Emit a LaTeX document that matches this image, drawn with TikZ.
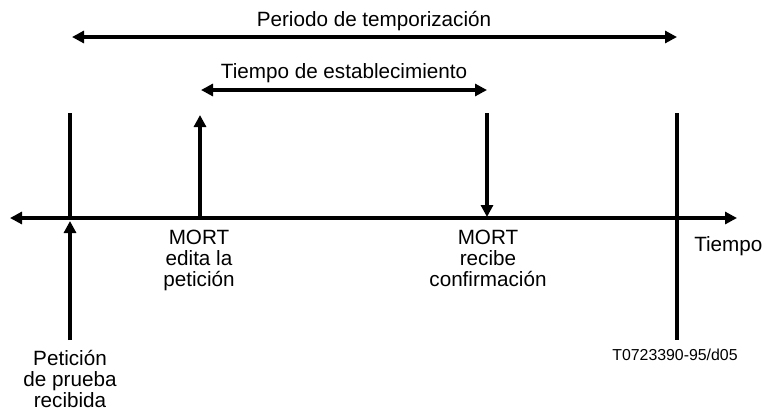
\documentclass[tikz,border=0pt]{standalone}
\usepackage{fontspec}
\setmainfont{Liberation Sans}
\usetikzlibrary{arrows.meta}
\begin{document}
\begin{tikzpicture}[x=0.75pt,y=-0.75pt,
  line/.style={line width=2.4pt},
  arr/.style={line width=2.4pt,-{Triangle[length=9pt,width=9pt]}},
  darr/.style={line width=2.4pt,{Triangle[length=9pt,width=9pt]}-{Triangle[length=9pt,width=9pt]}},
  lbl/.style={inner sep=0pt,font=\fontsize{15.5}{15.8}\selectfont,align=center},
  small/.style={inner sep=0pt,font=\fontsize{11.9}{13}\selectfont}]
\useasboundingbox[fill=white] (0,0) rectangle (763,412);
% coordinates
\coordinate (axL) at (10,218);
\coordinate (axR) at (737,218);
\coordinate (v1t) at (70,113);
\coordinate (v1a) at (70,221);
\coordinate (v1b) at (70,340);
\coordinate (v2a) at (200,218);
\coordinate (v2t) at (200,115);
\coordinate (v3t) at (487,113);
\coordinate (v3a) at (487,217);
\coordinate (v4t) at (677,113);
\coordinate (v4b) at (677,340);
\coordinate (pL) at (72,37);
\coordinate (pR) at (677,37);
\coordinate (eL) at (201,90);
\coordinate (eR) at (487,90);
% lines
\draw[darr] (axL) -- (axR);
\draw[line] (v1t) -- (70,218);
\draw[arr] (v1b) -- (v1a);
\draw[arr] (v2a) -- (v2t);
\draw[arr] (v3t) -- (v3a);
\draw[line] (v4t) -- (v4b);
\draw[darr] (pL) -- (pR);
\draw[darr] (eL) -- (eR);
% labels
\node[lbl,anchor=base] (periodo) at (374,26) {Periodo de temporización};
\node[lbl,anchor=base] (estab) at (344,78) {Tiempo de establecimiento};
\node[lbl,anchor=north] (mort1) at (199,230) {MORT\\edita la\\petición};
\node[lbl,anchor=north] (mort2) at (488,230) {MORT\\recibe\\confirmación};
\node[lbl,anchor=base west] (tiempo) at (694,251) {Tiempo};
\node[lbl,anchor=north] (peticion) at (70,350) {Petición\\de prueba\\recibida};
\node[small,anchor=base] (ref) at (675,360) {T0723390-95/d05};
\end{tikzpicture}
\end{document}
